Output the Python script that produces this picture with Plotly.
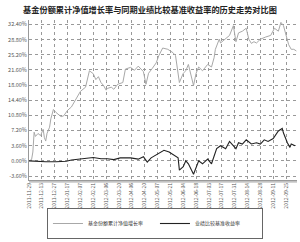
import plotly.graph_objects as go

title_text = "基金份额累计净值增长率与同期业绩比较基准收益率的历史走势对比图"
fund_name = "基金份额累计净值增长率"
bench_name = "业绩比较基准收益率"

tick_labels = ["2011-11-29", "2011-12-13", "2011-12-27", "2012-01-17", "2012-02-07",
               "2012-02-21", "2012-03-06", "2012-03-20", "2012-04-06", "2012-04-20",
               "2012-05-07", "2012-05-21", "2012-06-04", "2012-06-18", "2012-07-03",
               "2012-07-17", "2012-07-31", "2012-08-14", "2012-08-28", "2012-09-11",
               "2012-09-25"]
tick_days = [i * 10 for i in range(len(tick_labels))]

fund_days = [0, 2, 3, 4, 5, 7, 9, 11, 12, 13, 14, 16, 17, 19, 21, 23, 25, 27, 29, 30,
             33, 37, 40, 44, 47, 50, 52, 54, 56, 58, 60, 61, 64, 66, 69, 73, 75, 79, 82, 85,
             89, 91, 93, 96, 99, 101, 104, 108, 112, 114, 117, 120, 122, 124, 128, 130, 132, 135, 139, 142,
             144, 145, 148, 149, 152, 156, 159, 161, 163, 166, 169, 171, 173, 175, 177, 180, 184, 188, 191, 194,
             196, 198, 201, 202, 204, 206, 208]
fund_vals = [0.0, 0.3, 2.1, 6.8, 5.8, 6.5, 6.0, 7.5, 5.5, 4.7, 6.5, 8.0, 10.0, 12.2, 11.5, 11.0, 10.5, 10.7, 11.8, 12.0,
             12.8, 14.9, 16.5, 17.5, 21.4, 20.7, 19.3, 20.0, 18.6, 17.9, 16.8, 17.2, 17.5, 17.0, 18.2, 18.6, 21.8, 22.2, 21.5, 22.5,
             21.2, 18.2, 20.8, 22.0, 23.3, 25.0, 26.8, 26.5, 25.7, 25.0, 18.6, 20.8, 21.4, 22.9, 17.9, 20.8, 22.3, 21.4, 22.9, 22.3,
             24.5, 26.5, 28.9, 28.0, 28.7, 29.8, 32.1, 28.3, 30.4, 30.8, 31.5, 28.9, 27.9, 28.3, 28.0, 28.9, 29.4, 29.8, 31.5, 30.8,
             32.9, 32.1, 28.7, 27.6, 26.5, 26.5, 26.1]

bench_days = [0, 5, 13, 21, 29, 33, 40, 44, 50, 56, 61, 66, 71, 79, 85, 89, 92, 95, 99, 103,
              105, 109, 113, 116, 117, 120, 122, 124, 128, 130, 132, 135, 139, 142, 146, 149, 153, 156, 159, 161,
              163, 166, 169, 173, 177, 180, 183, 186, 190, 192, 194, 197, 198, 201, 203, 204, 207]
bench_vals = [0.0, -0.1, -0.2, -0.2, -0.1, 0.2, 0.4, 0.5, 0.8, 0.5, 0.5, 0.3, 0.7, 0.7, 0.4, 1.0, -0.3, 0.7, 1.4, 2.1,
              2.5, 2.1, 1.4, 0.7, -2.2, -1.4, 0.0, -0.7, -3.2, -1.4, 0.0, -0.7, 0.4, -0.7, 2.9, 3.6, 2.9, 4.6, 3.6, 2.9,
              4.3, 4.0, 5.0, 4.0, 4.3, 4.0, 5.0, 4.6, 5.3, 6.1, 7.1, 7.7, 6.6, 4.3, 3.2, 4.0, 3.6]

y_ticks = [-3.6, 0.0, 3.6, 7.2, 10.8, 14.4, 18.0, 21.6, 25.2, 28.8, 32.4]

fig = go.Figure()
fig.add_trace(go.Scatter(x=fund_days, y=fund_vals, mode="lines", name=fund_name,
                         line=dict(color="#a8a8a8", width=1)))
fig.add_trace(go.Scatter(x=bench_days, y=bench_vals, mode="lines", name=bench_name,
                         line=dict(color="#222222", width=1.1)))

fig.update_layout(
    width=300, height=242,
    margin=dict(l=29, r=3, t=20, b=42),
    paper_bgcolor="white", plot_bgcolor="white",
    font=dict(family="Noto Sans CJK SC, sans-serif", color="#444444"),
    title=dict(text="<b>" + title_text + "</b>", x=0.5, xanchor="center", y=0.972, yanchor="top",
               font=dict(size=8.2, color="#222222")),
    showlegend=True,
    legend=dict(orientation="h", x=0.47, xanchor="center", y=-0.175, yanchor="top",
                bordercolor="#666666", borderwidth=1, bgcolor="white",
                font=dict(size=5, color="#333333"), itemwidth=30,
                entrywidthmode="pixels", entrywidth=62, tracegroupgap=0),
    xaxis=dict(range=[0, 208.5], tickmode="array", tickvals=tick_days, ticktext=tick_labels,
               tickangle=-90, tickfont=dict(size=5, color="#555555"),
               showgrid=True, gridcolor="#999999", griddash="dot", gridwidth=1,
               zeroline=False, showline=True, linecolor="#999999", linewidth=1, mirror=False,
               ticks=""),
    yaxis=dict(range=[-4.55, 33.46], tickmode="array", tickvals=y_ticks,
               ticktext=["%.2f%%" % v for v in y_ticks],
               tickfont=dict(size=5.5, color="#555555"),
               showgrid=True, gridcolor="#999999", griddash="dot", gridwidth=1,
               zeroline=False, showline=True, linecolor="#999999", linewidth=1, ticks=""),
)
fig.add_shape(type="line", xref="paper", yref="paper", x0=0, x1=1, y0=-0.012, y1=-0.012,
              line=dict(color="#999999", width=1))

fig.write_html("out.html")
